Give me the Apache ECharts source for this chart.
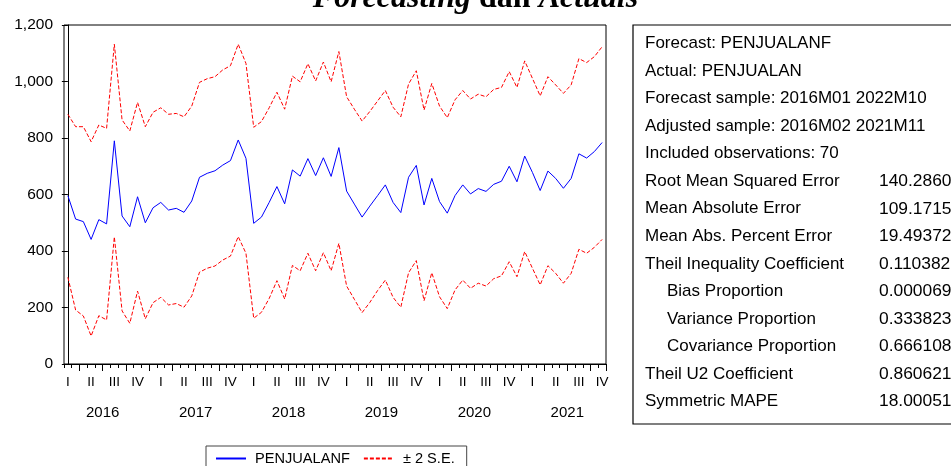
<!DOCTYPE html>
<html><head><meta charset="utf-8">
<script src="https://cdn.jsdelivr.net/npm/echarts@6/dist/echarts.min.js"></script>
<style>html,body{margin:0;padding:0;background:#fff}#c{width:951px;height:466px}</style>
</head><body><div id="c"></div>
<script>
// ---- data ----
const years = ['2016','2017','2018','2019','2020','2021'];
const quarterLabels = ['I','II','III','IV'];
const yTickMin = 0, yTickMax = 1200, yTickStep = 200;

const forecast = [
  596, 513, 504, 441, 511, 496, 790, 524, 486, 592,
  500, 553, 572, 545, 551, 537, 577, 661, 675, 684,
  704, 720, 793, 728, 498, 520, 572, 628, 567, 687,
  665, 727, 667, 730, 664, 766, 612, 566, 520, 559,
  596, 634, 572, 536, 661, 703, 563, 657, 575, 534,
  596, 634, 602, 621, 611, 636, 647, 700, 645, 736,
  678, 614, 683, 657, 622, 657, 744, 729, 752, 784
];
const upperBand = [
  884, 840, 840, 787, 846, 834, 1132, 864, 825, 926,
  840, 891, 907, 884, 887, 875, 913, 997, 1010, 1017,
  1041, 1056, 1132, 1064, 838, 858, 907, 962, 902, 1019,
  999, 1063, 1002, 1069, 999, 1106, 946, 902, 860, 894,
  931, 968, 909, 875, 991, 1038, 899, 993, 913, 872,
  935, 968, 938, 955, 946, 972, 979, 1035, 979, 1073,
  1011, 949, 1017, 988, 958, 988, 1081, 1067, 1088, 1123
];
const lowerBand = [
  307, 191, 170, 99, 171, 156, 450, 188, 144, 258,
  160, 217, 236, 209, 214, 201, 241, 325, 339, 347,
  368, 382, 451, 392, 162, 183, 232, 295, 230, 349,
  330, 392, 330, 394, 330, 427, 276, 229, 182, 218,
  260, 297, 236, 201, 323, 366, 224, 323, 238, 196,
  262, 297, 268, 286, 276, 302, 312, 362, 309, 398,
  339, 280, 348, 321, 286, 321, 406, 392, 413, 441
];

const infoLines = [
  'Forecast: PENJUALANF',
  'Actual: PENJUALAN',
  'Forecast sample: 2016M01 2022M10',
  'Adjusted sample: 2016M02 2021M11',
  'Included observations: 70'
];
const statNames = [
  'Root Mean Squared Error',
  'Mean Absolute Error',
  'Mean Abs. Percent Error',
  'Theil Inequality Coefficient',
  'Bias Proportion',
  'Variance Proportion',
  'Covariance Proportion',
  'Theil U2 Coefficient',
  'Symmetric MAPE'
];
const statValues = ['140.2860','109.1715','19.49372','0.110382','0.000069','0.333823','0.666108','0.860621','18.00051'];
const indentedStats = [4, 5, 6];

// ---- categories (monthly, 2016M01 ..) ----
const months = [];
years.forEach(y => { for (let m = 1; m <= 12; m++) months.push(y + 'M' + String(m).padStart(2, '0')); });
const categories = months.slice(0, forecast.length);
const yearCenters = years.map((y, i) => i * 12 + 4.5);

const FONT = '"Liberation Sans", Arial, sans-serif';

// ---- table graphics ----
const graphics = [];
const tblX = 633, tblY = 25, tblH = 399;
graphics.push({ type: 'rect', shape: { x: tblX, y: tblY, width: 340, height: tblH },
  style: { fill: '#fff', stroke: '#000', lineWidth: 1.2 }, z: 10 });
const rowY0 = 43.5, rowStep = 27.55;
infoLines.forEach((t, i) => {
  graphics.push({ type: 'text', x: 645, y: rowY0 + i * rowStep, z: 11,
    style: { text: t, font: '17px ' + FONT, fill: '#000', verticalAlign: 'middle', align: 'left' } });
});
statNames.forEach((t, j) => {
  const i = j + infoLines.length;
  const x = indentedStats.includes(j) ? 667 : 645;
  graphics.push({ type: 'text', x: x, y: rowY0 + i * rowStep, z: 11,
    style: { text: t, font: '17px ' + FONT, fill: '#000', verticalAlign: 'middle', align: 'left' } });
  graphics.push({ type: 'text', x: 879, y: rowY0 + i * rowStep, z: 11,
    style: { text: statValues[j], font: '17.4px ' + FONT, fill: '#000', verticalAlign: 'middle', align: 'left' } });
});

const chart = echarts.init(document.getElementById('c'), null, { renderer: 'canvas' });
chart.setOption({
  animation: false,
  backgroundColor: '#fff',
  title: {
    text: '{it|Forecasting} {up|dan} {it|Actuals}',
    left: 'center', top: -17, padding: 0,
    textStyle: {
      fontFamily: '"Liberation Serif", "Times New Roman", serif', fontSize: 32, fontWeight: 'bold', color: '#000',
      rich: {
        it: { fontFamily: '"Liberation Serif", "Times New Roman", serif', fontSize: 32, fontWeight: 'bold', fontStyle: 'italic', color: '#000' },
        up: { fontFamily: '"Liberation Serif", "Times New Roman", serif', fontSize: 32, fontWeight: 'bold', color: '#000' }
      }
    }
  },
  grid: { left: 64, top: 25, width: 542, height: 339, show: true, borderColor: '#000', borderWidth: 1, containLabel: false },
  legend: {
    left: 206, top: 446,
    data: ['PENJUALANF', '± 2 S.E.'],
    itemWidth: 30, itemHeight: 14, itemGap: 13,
    padding: [5, 12, 6, 9],
    borderColor: '#444', borderWidth: 1, backgroundColor: '#fff',
    itemStyle: { opacity: 0, borderWidth: 0 },
    textStyle: { fontFamily: FONT, fontSize: 14.6, color: '#000', padding: [0, 0, 0, 4] },
    selectedMode: false
  },
  xAxis: [
    {
      type: 'category', data: categories, boundaryGap: true,
      axisLine: { lineStyle: { color: '#000', width: 1 } },
      axisTick: { show: true, length: 4, interval: 0, lineStyle: { color: '#000' } },
      axisLabel: {
        interval: (i) => i % 3 === 0,
        formatter: (v, i) => quarterLabels[(i % 12) / 3],
        fontFamily: FONT, fontSize: 13.5, color: '#000', margin: 11
      },
      splitLine: { show: false }
    },
    {
      type: 'category', data: categories, boundaryGap: true, position: 'bottom',
      axisLine: { show: false },
      axisTick: { show: true, length: 7, interval: (i) => i % 3 === 2, lineStyle: { color: '#000' } },
      axisLabel: { show: false },
      splitLine: { show: false }
    },
    {
      type: 'value', min: -0.5, max: categories.length - 0.5, position: 'bottom',
      axisLine: { show: false }, axisTick: { show: false }, splitLine: { show: false },
      axisLabel: {
        customValues: yearCenters,
        formatter: (v) => years[Math.round((v - 4.5) / 12)],
        fontFamily: FONT, fontSize: 15, color: '#000', margin: 41, showMinLabel: true, showMaxLabel: true
      }
    }
  ],
  yAxis: {
    type: 'value', min: yTickMin, max: yTickMax, interval: yTickStep,
    axisLine: { show: true, lineStyle: { color: '#000' } },
    axisTick: { show: true, length: 6, lineStyle: { color: '#000' } },
    axisLabel: {
      formatter: (v) => v.toLocaleString('en-US'),
      fontFamily: FONT, fontSize: 15.5, color: '#000', margin: 11
    },
    splitLine: { show: false }
  },
  series: [
    { name: 'PENJUALANF', type: 'line', data: forecast, symbol: 'none',
      lineStyle: { color: '#0000FF', width: 1 }, itemStyle: { color: '#0000FF' } },
    { name: '± 2 S.E.', type: 'line', data: upperBand, symbol: 'none',
      lineStyle: { color: '#FF0000', width: 1, type: [4, 2] }, itemStyle: { color: '#FF0000' } },
    { name: '± 2 S.E.', type: 'line', data: lowerBand, symbol: 'none',
      lineStyle: { color: '#FF0000', width: 1, type: [4, 2] }, itemStyle: { color: '#FF0000' } }
  ],
  graphic: graphics
});
</script></body></html>
